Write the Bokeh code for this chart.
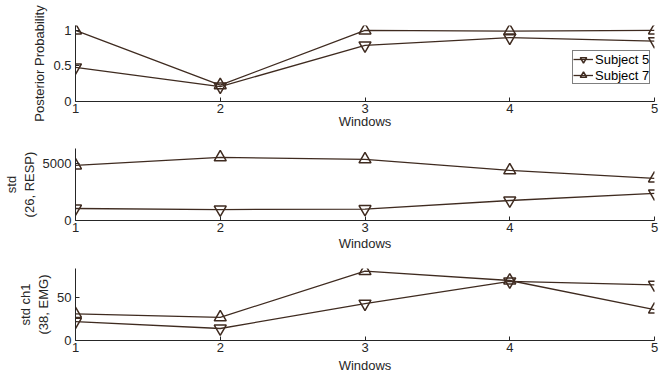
from bokeh.plotting import figure
from bokeh.layouts import column
from bokeh.models import Range1d, FixedTicker, Legend, LegendItem
from bokeh.embed import file_html
from bokeh.resources import INLINE

# Data
windows = [1, 2, 3, 4, 5]
prob_s5 = [0.48, 0.21, 0.79, 0.90, 0.85]
prob_s7 = [1.00, 0.23, 1.00, 0.99, 1.00]
resp_s5 = [1050, 960, 1000, 1750, 2370]
resp_s7 = [4820, 5530, 5350, 4390, 3680]
emg_s5 = [22, 14, 43, 69, 65]
emg_s7 = [31, 27, 81, 70, 36]

LINE = "#3f2b20"
AXIS = "#262626"
FONT = "Liberation Sans"
FS = "13px"


def make_panel(height, top, bottom, ymax, yticks, ylabel, xlabel_standoff):
    p = figure(width=663, height=height, output_backend="svg", toolbar_location=None,
               x_range=Range1d(1, 5), y_range=Range1d(0, ymax),
               min_border_left=71, min_border_right=9,
               min_border_top=top, min_border_bottom=bottom)
    p.outline_line_color = None
    p.grid.visible = False
    for ax in (p.xaxis[0], p.yaxis[0]):
        ax.axis_line_color = AXIS
        ax.major_tick_line_color = AXIS
        ax.major_tick_in = 4
        ax.major_tick_out = 0
        ax.minor_tick_line_color = None
        ax.major_label_text_font = FONT
        ax.major_label_text_font_size = FS
        ax.major_label_text_color = AXIS
        ax.axis_label_text_font = FONT
        ax.axis_label_text_font_size = FS
        ax.axis_label_text_font_style = "normal"
        ax.axis_label_text_color = AXIS
    p.xaxis.ticker = FixedTicker(ticks=windows)
    p.xaxis.axis_label = "Windows"
    p.xaxis.major_label_standoff = 2
    p.xaxis.axis_label_standoff = xlabel_standoff
    p.yaxis.ticker = FixedTicker(ticks=yticks)
    p.yaxis.axis_label = ylabel
    p.yaxis.major_label_standoff = 4
    p.yaxis.axis_label_standoff = 3
    return p


def add_series(p, y_s5, y_s7):
    l5 = p.line(windows, y_s5, line_color=LINE, line_width=1.3)
    m5 = p.scatter(windows, y_s5, marker="inverted_triangle", size=12,
                   line_color=LINE, line_width=1.5, fill_alpha=0)
    l7 = p.line(windows, y_s7, line_color=LINE, line_width=1.3)
    m7 = p.scatter(windows, y_s7, marker="triangle", size=12,
                   line_color=LINE, line_width=1.5, fill_alpha=0)
    return (l5, m5), (l7, m7)


p1 = make_panel(137, 25, 36, 1.07, [0, 0.5, 1], "Posterior Probability", -2)
p1.yaxis.major_label_overrides = {0: "0", 0.5: "0.5", 1: "1"}
r5, r7 = add_series(p1, prob_s5, prob_s7)
legend = Legend(items=[LegendItem(label="Subject 5", renderers=list(r5)),
                       LegendItem(label="Subject 7", renderers=list(r7))],
                location=(497, 17), orientation="vertical",
                label_text_font=FONT, label_text_font_size=FS, label_text_color="#000000",
                label_standoff=2, glyph_width=20, glyph_height=16, label_height=16,
                padding=0, spacing=0, margin=0,
                border_line_color="#000000", border_line_width=1,
                background_fill_color="white", background_fill_alpha=1)
p1.add_layout(legend, "center")

p2 = make_panel(118, 11, 35, 6300, [0, 5000], "std\n(26, RESP)", 1)
add_series(p2, resp_s5, resp_s7)

p3 = make_panel(120, 13, 35, 84, [0, 50], "std ch1\n(38, EMG)", 3)
add_series(p3, emg_s5, emg_s7)

layout = column(p1, p2, p3, spacing=0)
open("out.html", "w").write(file_html(layout, INLINE))
